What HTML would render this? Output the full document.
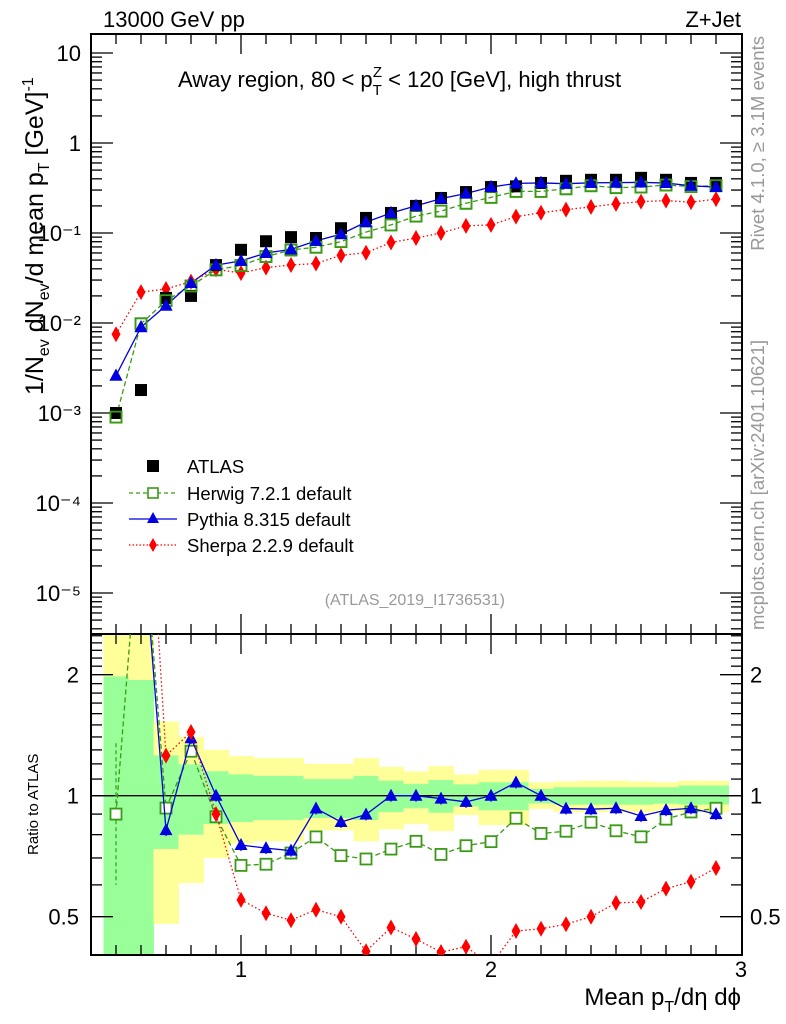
<!DOCTYPE html>
<html><head><meta charset="utf-8">
<style>
html,body{margin:0;padding:0;background:#fff;}
svg{display:block;font-family:"Liberation Sans",sans-serif;}
</style></head>
<body>
<svg id="chart" width="786" height="1024" viewBox="0 0 786 1024" xmlns="http://www.w3.org/2000/svg">
<text x="103" y="27" font-size="22">13000 GeV pp</text>
<text x="741" y="27" font-size="22" text-anchor="end">Z+Jet</text>
<text x="178" y="87" font-size="22">Away region, 80 &lt; p<tspan font-size="15" dy="8">T</tspan><tspan font-size="15" dx="-9" dy="-18">Z</tspan><tspan dy="10"> &lt; 120 [GeV], high thrust</tspan></text>
<text transform="translate(764,36) rotate(-90)" font-size="18.5" fill="#999" text-anchor="end">Rivet 4.1.0, ≥ 3.1M events</text>
<text transform="translate(764,630) rotate(-90)" font-size="18.5" fill="#999">mcplots.cern.ch [arXiv:2401.10621]</text>
<text x="505" y="605" font-size="16" fill="#999" text-anchor="end">(ATLAS_2019_I1736531)</text>
<text transform="translate(43,395) rotate(-90)" font-size="25">1/N<tspan font-size="16" dy="6">ev</tspan><tspan dy="-6"> dN</tspan><tspan font-size="16" dy="6">ev</tspan><tspan dy="-6">/d mean p</tspan><tspan font-size="16" dy="6">T</tspan><tspan dy="-6"> [GeV]</tspan><tspan font-size="16" dy="-10">-1</tspan></text>
<text transform="translate(38,855) rotate(-90)" font-size="15">Ratio to ATLAS</text>
<text x="741" y="1005" font-size="24" text-anchor="end">Mean p<tspan font-size="16" dy="7">T</tspan><tspan dy="-7">/dη dϕ</tspan></text>
<g id="legend">
 <g><rect x="147" y="460" width="12" height="12" fill="#000"/><text x="187" y="473" font-size="18.5">ATLAS</text></g>
 <g><line x1="129" y1="493" x2="177" y2="493" stroke="#3a9a16" stroke-dasharray="4,3" stroke-width="1.3"/><rect x="148" y="488" width="10" height="10" fill="#fff" stroke="#3a9a16" stroke-width="1.6"/><text x="187" y="500" font-size="18.5">Herwig 7.2.1 default</text></g>
 <g><line x1="129" y1="519" x2="177" y2="519" stroke="#0000e0" stroke-width="1.3"/><polygon points="153,512 159,523 147,523" fill="#0000e0"/><text x="187" y="526" font-size="18.5">Pythia 8.315 default</text></g>
 <g><line x1="129" y1="545" x2="177" y2="545" stroke="#f00" stroke-dasharray="1.5,2" stroke-width="1.3"/><polygon points="153,538 157,545 153,552 149,545" fill="#f00"/><text x="187" y="552" font-size="18.5">Sherpa 2.2.9 default</text></g>
</g>
</svg>
<script>
const xCenters=[0.5,0.6,0.7,0.8,0.9,1.0,1.1,1.2,1.3,1.4,1.5,1.6,1.7,1.8,1.9,2.0,2.1,2.2,2.3,2.4,2.5,2.6,2.7,2.8,2.9];
const atlas=[1.0e-3,1.8e-3,0.019,0.020,0.044,0.065,0.081,0.090,0.088,0.113,0.147,0.167,0.200,0.245,0.285,0.324,0.330,0.360,0.380,0.390,0.390,0.410,0.390,0.360,0.360];
const herwig=[9.0e-4,9.8e-3,0.0177,0.0258,0.039,0.0436,0.0547,0.0648,0.0695,0.0802,0.1023,0.123,0.154,0.175,0.214,0.249,0.290,0.290,0.310,0.335,0.319,0.324,0.341,0.328,0.335];
const pythia=[0.0026,0.009,0.0156,0.0278,0.044,0.049,0.060,0.0657,0.0818,0.0972,0.132,0.167,0.200,0.241,0.275,0.324,0.356,0.360,0.353,0.361,0.363,0.365,0.359,0.335,0.324];
const sherpa=[0.0075,0.022,0.0239,0.0288,0.0396,0.0358,0.0413,0.0441,0.0458,0.0565,0.0603,0.0785,0.088,0.100,0.120,0.123,0.152,0.168,0.182,0.195,0.211,0.223,0.229,0.220,0.238];
const yelUp=[3.0,3.0,1.53,1.40,1.30,1.255,1.24,1.24,1.20,1.20,1.24,1.18,1.15,1.185,1.13,1.16,1.16,1.08,1.085,1.09,1.09,1.085,1.08,1.09,1.09];
const grnUp=[1.98,1.94,1.26,1.197,1.15,1.13,1.12,1.12,1.10,1.10,1.12,1.09,1.07,1.094,1.067,1.08,1.08,1.04,1.05,1.05,1.05,1.05,1.05,1.06,1.06];
const grnDn=[0.3,0.3,0.737,0.80,0.85,0.86,0.87,0.87,0.88,0.88,0.87,0.91,0.93,0.907,0.94,0.92,0.92,0.957,0.95,0.95,0.95,0.95,0.955,0.95,0.95];
const yelDn=[0.3,0.3,0.48,0.606,0.70,0.76,0.77,0.77,0.82,0.82,0.77,0.825,0.85,0.817,0.895,0.845,0.845,0.927,0.91,0.91,0.91,0.91,0.915,0.91,0.91];
const yTickLabels=["10","1","10⁻¹","10⁻²","10⁻³","10⁻⁴","10⁻⁵"];
const rTickVals=[0.5,1,2];

const NS="http://www.w3.org/2000/svg";
const svg=document.getElementById('chart');
const L=91,R=742,MT=34,MB=634,RT=634,RB=955;
const X=v=>L+(v-0.4)*250;
const Y=v=>143-90*Math.log10(v);
const RY=v=>795.7-121*Math.log2(v);
function mk(tag,attrs,parent){const e=document.createElementNS(NS,tag);for(const k in attrs)e.setAttribute(k,attrs[k]);(parent||svg).appendChild(e);return e;}

const defs=mk('defs',{});
const c1=mk('clipPath',{id:'cm'},defs);mk('rect',{x:L,y:MT,width:R-L,height:MB-MT},c1);
const c2=mk('clipPath',{id:'cr'},defs);mk('rect',{x:L,y:RT,width:R-L,height:RB-RT},c2);

const bands=mk('g',{'clip-path':'url(#cr)'});


xCenters.forEach((c,i)=>{
  const x0=X(c-0.05),w=X(c+0.05)-x0;
  const y1=mk('rect',{x:x0,y:RY(yelUp[i]),width:w+0.5,height:RY(yelDn[i])-RY(yelUp[i]),fill:'#ffff99'},bands);
  
  
  const g1=mk('rect',{x:x0,y:RY(grnUp[i]),width:w+0.5,height:RY(grnDn[i])-RY(grnUp[i]),fill:'#99ff99'},bands);
  
  
});
const one=mk('line',{x1:L,x2:R,y1:RY(1),y2:RY(1),stroke:'#000','stroke-width':1.3});



function frame(top,bot,name){
  const f=mk('rect',{x:L,y:top,width:R-L,height:bot-top,fill:'none',stroke:'#000','stroke-width':2});
  
  
  for(let v=0.5;v<=2.95;v+=0.1){
    const major=Math.abs(v-Math.round(v))<0.01;
    const len=major?20:10;
    mk('line',{x1:X(v),x2:X(v),y1:bot,y2:bot-len,stroke:'#000','stroke-width':1.3});
    mk('line',{x1:X(v),x2:X(v),y1:top,y2:top+len,stroke:'#000','stroke-width':1.3});
  }
}
frame(MT,MB,'main-plot-frame');
frame(RT,RB,'ratio-plot-frame');
for(let d=-6;d<=1;d++){
  for(let m=1;m<10;m++){
    const v=m*Math.pow(10,d);const y=Y(v);
    if(y<MT||y>MB)continue;
    const len=m===1?22:11;
    mk('line',{x1:L,x2:L+len,y1:y,y2:y,stroke:'#000','stroke-width':1.3});
    mk('line',{x1:R,x2:R-len,y1:y,y2:y,stroke:'#000','stroke-width':1.3});
  }
}
yTickLabels.forEach((t,i)=>{
  const y=Y(Math.pow(10,1-i));
  const lab=mk('text',{x:L-10,y:y+8,'font-size':22,'text-anchor':'end'});
  lab.textContent=t;
  
  
});
for(let v=0.4;v<=2.51;v+=0.1){
  const y=RY(v);if(y<RT||y>RB)continue;
  const major=rTickVals.some(t=>Math.abs(t-v)<0.01);
  const len=major?22:11;
  mk('line',{x1:L,x2:L+len,y1:y,y2:y,stroke:'#000','stroke-width':1.3});
  mk('line',{x1:R,x2:R-len,y1:y,y2:y,stroke:'#000','stroke-width':1.3});
}
rTickVals.forEach(v=>{
  const a=mk('text',{x:L-12,y:RY(v)+8,'font-size':22,'text-anchor':'end'});a.textContent=String(v);
  
  
  const b=mk('text',{x:R+8,y:RY(v)+8,'font-size':22});b.textContent=String(v);
  
  
});
[1,2,3].forEach(v=>{
  const t=mk('text',{x:X(v),y:977,'font-size':22,'text-anchor':'middle'});t.textContent=String(v);
  
  
});

function marker(g,type,x,y,col){
  if(type==='sq')return mk('rect',{x:x-6,y:y-6,width:12,height:12,fill:col},g);
  if(type==='osq')return mk('rect',{x:x-5.5,y:y-5.5,width:11,height:11,fill:'none',stroke:col,'stroke-width':1.8},g);
  if(type==='tri')return mk('polygon',{points:`${x},${y-7} ${x+6.5},${y+5} ${x-6.5},${y+5}`,fill:col},g);
  return mk('polygon',{points:`${x},${y-8} ${x+4.5},${y} ${x},${y+8} ${x-4.5},${y}`,fill:col},g);
}
const series=[
  {name:'herwig',vals:herwig,col:'#3a9a16',dash:'5,3',m:'osq'},
  {name:'pythia',vals:pythia,col:'#0000e0',dash:'',m:'tri'},
  {name:'sherpa',vals:sherpa,col:'#f00',dash:'1.5,2.5',m:'dia'}
];
const gm=mk('g',{'clip-path':'url(#cm)'});


series.forEach(s=>{
  const g=mk('g',{},gm);
  
  
  const pts=s.vals.map((v,i)=>X(xCenters[i])+','+Y(v)).join(' ');
  mk('polyline',{points:pts,fill:'none',stroke:s.col,'stroke-width':1.3,'stroke-dasharray':s.dash},g);
  s.vals.forEach((v,i)=>{
    const p=marker(g,s.m,X(xCenters[i]),Y(v),s.col);
    
    
  });
});
const ga=mk('g',{},gm);


atlas.forEach((v,i)=>{
  const p=marker(ga,'sq',X(xCenters[i]),Y(v),'#000');
  
  
});
series.slice(0,2).forEach(s=>{
  s.vals.forEach((v,i)=>{
    const p=marker(gm,s.m,X(xCenters[i]),Y(v),s.col);
    if(s.m==='osq'){p.setAttribute('fill','none');}
    
    
  });
});
const gr=mk('g',{'clip-path':'url(#cr)'});


series.forEach(s=>{
  const g=mk('g',{},gr);
  
  
  const r=s.vals.map((v,i)=>v/atlas[i]);
  mk('polyline',{points:r.map((v,i)=>X(xCenters[i])+','+RY(v)).join(' '),fill:'none',stroke:s.col,'stroke-width':1.3,'stroke-dasharray':s.dash},g);
  r.forEach((v,i)=>{
    const x=X(xCenters[i]),y=RY(v);
    const big=(i===0&&s.name==='herwig');
    const e=big?0.5:0.035;
    mk('line',{x1:x,x2:x,y1:RY(v*(1+e)),y2:RY(v/(1+e)),stroke:s.col,'stroke-width':1.2,'stroke-dasharray':big?'4,3':''},g);
    const p=marker(g,s.m,x,y,s.col);
    if(s.m==='osq')p.setAttribute('fill','#fff');
    
    
  });
});
</script>
</body></html>
